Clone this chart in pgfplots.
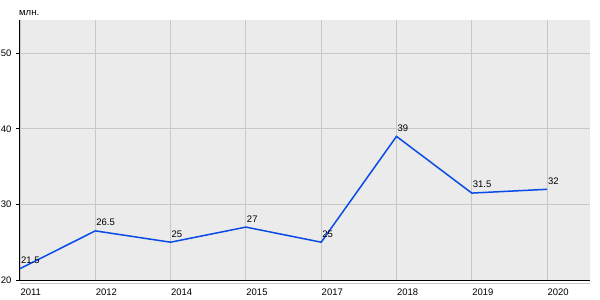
\documentclass[border=0pt]{standalone}
\usepackage{pgfplots}
\pgfplotsset{compat=1.18}
\usepackage{fontspec}
\setmainfont{Liberation Sans}
\definecolor{bg}{HTML}{EBEBEB}
\definecolor{gridc}{HTML}{C8C8C8}
\definecolor{line}{HTML}{0A4BE6}
\begin{document}
\begin{tikzpicture}[x=1pt,y=1pt]
\useasboundingbox (0,0) rectangle (600,300);
\fill[white] (0,0) rectangle (600,300);
\draw[gridc, line width=1.2pt] (20,16.5) -- (590,16.5);
\begin{axis}[
  at={(20pt,20pt)}, anchor=south west,
  scale only axis, width=570pt, height=260pt,
  xmin=0, xmax=7.57, ymin=20, ymax=54.4,
  axis background/.style={fill=bg},
  axis x line*=bottom, axis y line*=left,
  axis line style={black, line width=1pt, -},
  xtick={0,...,7},
  xticklabels={2011,2012,2014,2015,2017,2018,2019,2020},
  ytick={20,30,40,50},
  grid=major, major grid style={gridc, line width=0.8pt},
  x tick style={draw=none},
  y tick style={black, line width=0.8pt},
  tick align=outside, major tick length=4pt,
  xticklabel style={anchor=north west, xshift=-3pt, yshift=-1pt},
  yticklabel style={anchor=east, xshift=-1pt},
  tick label style={font=\fontsize{9.5}{11}\selectfont},
  /pgf/number format/assume math mode=true,
  clip=false,
  nodes near coords,
  nodes near coords style={anchor=south west, xshift=-3pt, yshift=1pt, text=black, font=\fontsize{9.5}{11}\selectfont, /pgf/number format/.cd, fixed, precision=1},
]
\addplot[line, line width=1.5pt, mark=none] coordinates {
(0,21.5) (1,26.5) (2,25) (3,27) (4,25) (5,39) (6,31.5) (7,32)
};
\end{axis}
\node[anchor=south west, inner sep=0pt, font=\fontsize{9.5}{11}\selectfont] at (19,284) {млн.};
\end{tikzpicture}
\end{document}
